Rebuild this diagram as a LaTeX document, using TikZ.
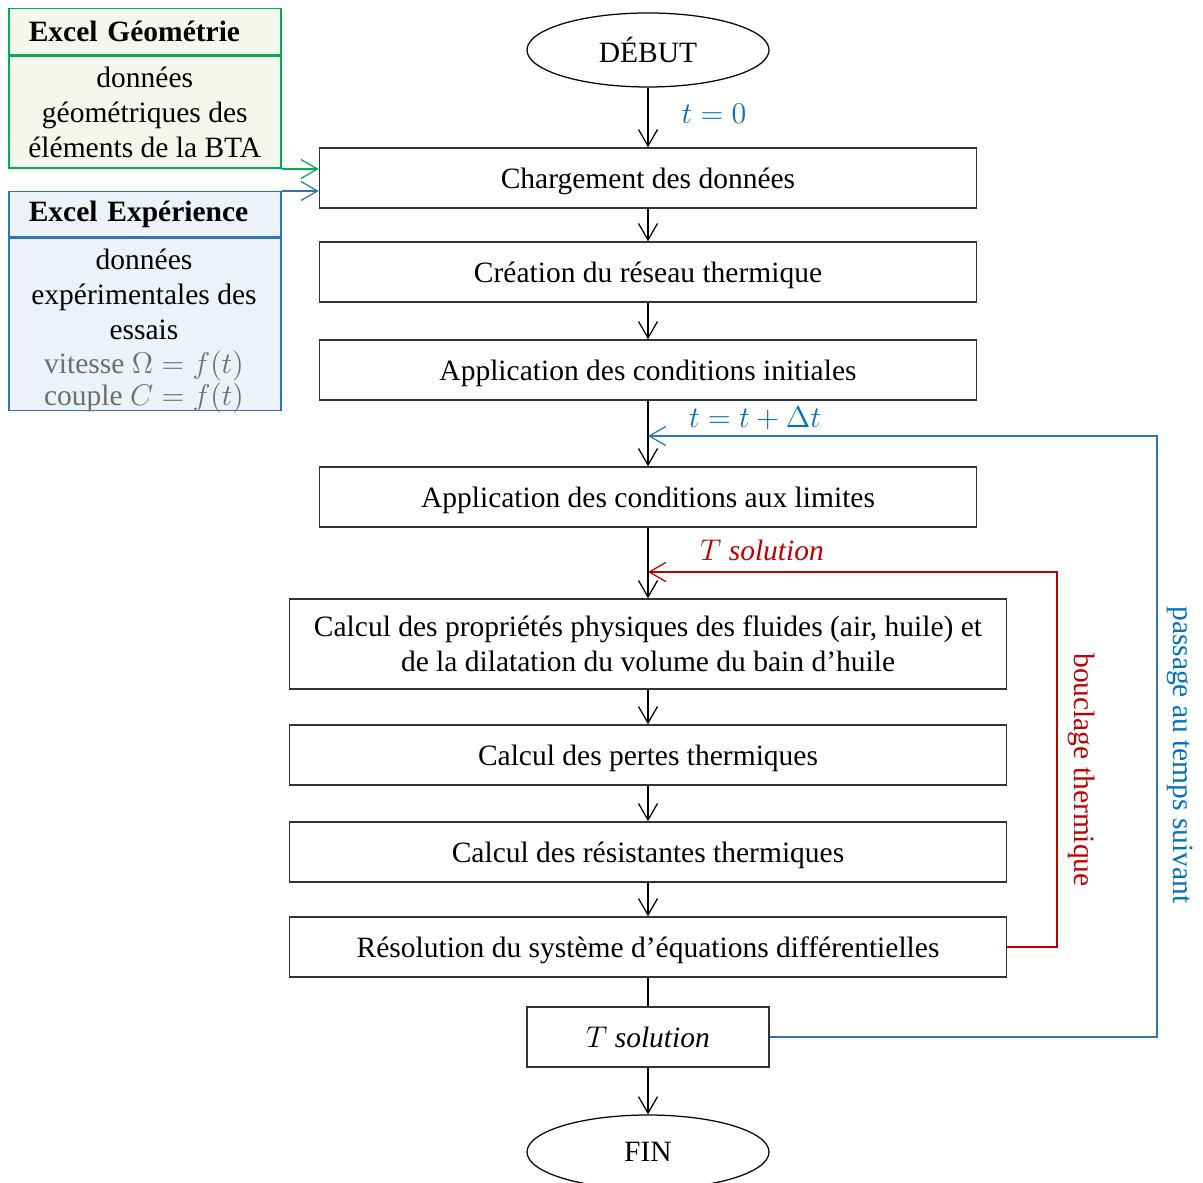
\documentclass[tikz,border=0pt]{standalone}
\usepackage{fontspec}
\setmainfont{Liberation Serif}
\usetikzlibrary{arrows.meta,shapes.geometric,positioning}
\definecolor{geoline}{RGB}{0,176,80}
\definecolor{geofill}{RGB}{243,247,237}
\definecolor{expline}{RGB}{46,117,182}
\definecolor{expfill}{RGB}{237,241,248}
\definecolor{loopblue}{RGB}{0,112,192}
\definecolor{loopred}{RGB}{192,0,0}
\definecolor{notegray}{RGB}{110,110,110}
\begin{document}
\begin{tikzpicture}[x=0.4pt, y=-0.4pt, >={Straight Barb[length=6.6pt,width=7.6pt]},
    every node/.style={font=\fontsize{11.8}{14}\selectfont},
    stepbox/.style={draw=black!80, line width=0.6pt, minimum height=24pt, inner sep=0pt, text depth=0pt, align=center},
    topbox/.style={stepbox, minimum width=262.8pt},
    calcbox/.style={stepbox, minimum width=286.8pt},
    term/.style={ellipse, draw=black, line width=0.5pt, minimum width=96.8pt, minimum height=29.6pt, inner sep=0pt},
    flow/.style={->, line width=0.5pt},
    xlhead/.style={line width=0.6pt, minimum width=108.8pt, text width=92.8pt, inner xsep=8pt, inner ysep=0pt, align=left, font=\fontsize{11.8}{14}\selectfont\bfseries},
    xlbody/.style={line width=0.6pt, minimum width=108.8pt, inner sep=0pt, align=center}
  ]
  \useasboundingbox (0,0) rectangle (1203,1183);

  % Excel sources
  \node[xlhead, draw=geoline, fill=geofill, minimum height=18.4pt, anchor=north west] (geohead) at (8,8) {Excel Géométrie};
  \node[xlbody, draw=geoline, fill=geofill, minimum height=44.8pt, anchor=north] (geobody) at (geohead.south) {données\\géométriques des\\éléments de la BTA};
  \node[xlhead, draw=expline, fill=expfill, minimum height=18pt, anchor=north west] (exphead) at (8,191) {Excel Expérience};
  \node[xlbody, draw=expline, fill=expfill, minimum height=68.8pt, anchor=north] (expbody) at (exphead.south) {};
  \node[align=center] (exptext) at (144,331) {données\\expérimentales des\\essais\\[-0.4pt]\textcolor{notegray}{vitesse $\Omega = f(t)$}\\[-1.2pt]\textcolor{notegray}{couple $C = f(t)$}};

  % Main column
  \node[term] (debut) at (648,50) {DÉBUT};
  \node[topbox] (charge) at (648,178) {Chargement des données};
  \node[topbox] (reseau) at (648,272) {Création du réseau thermique};
  \node[topbox] (init) at (648,370) {Application des conditions initiales};
  \node[topbox] (limites) at (648,497) {Application des conditions aux limites};
  \node[calcbox, minimum height=36pt] (proprietes) at (648,644) {Calcul des propriétés physiques des fluides (air, huile) et\\de la dilatation du volume du bain d’huile};
  \node[calcbox] (pertes) at (648,755) {Calcul des pertes thermiques};
  \node[calcbox] (resistances) at (648,852) {Calcul des résistantes thermiques};
  \node[calcbox] (resolution) at (648,947) {Résolution du système d’équations différentielles};
  \node[stepbox, minimum width=96.8pt] (tsol) at (648,1037) {$T$ \textit{solution}};
  \node[term] (fin) at (648,1152) {FIN};

  % Flow
  \draw[flow] (debut) -- (charge);
  \foreach \a/\b in {charge/reseau, reseau/init, init/limites, limites/proprietes, proprietes/pertes, pertes/resistances, resistances/resolution}
    \draw[flow] (\a) -- (\b);
  \draw[line width=0.5pt] (resolution) -- (tsol);
  \draw[flow] (tsol) -- (fin);

  % Inputs
  \draw[flow, geoline] (geobody.south east) -- (charge.west |- geobody.south east);
  \draw[flow, expline] (exphead.north east) -- (charge.west |- exphead.north east);

  % Labels
  \node[text=loopblue] (tzero) at (714,114) {$t = 0$};
  \node[text=loopblue] (tnext) at (755,418) {$t = t + \Delta t$};
  \node[text=loopred] (tsolred) at (762,550) {$T$ \textit{solution}};

  % Loops
  \coordinate (redcorner) at (1057,572);
  \draw[flow, loopred] (resolution.east) -| (redcorner) -- (limites.south |- redcorner);
  \coordinate (bluecorner) at (1157,436);
  \draw[flow, expline] (tsol.east) -| (bluecorner) -- (init.south |- bluecorner);
  \node[text=loopred, rotate=-90] (bouclage) at (1082,770) {bouclage thermique};
  \node[text=loopblue, rotate=-90] (passage) at (1180,755) {passage au temps suivant};
\end{tikzpicture}
\end{document}
